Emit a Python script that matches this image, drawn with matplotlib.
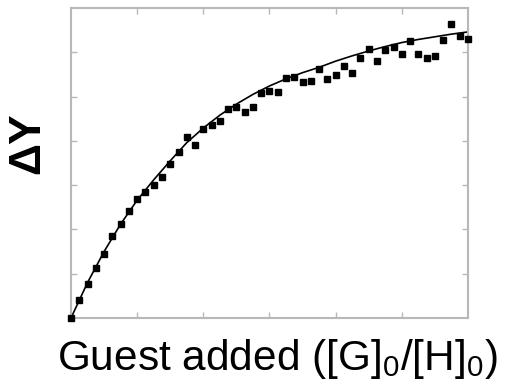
import numpy as np
from matplotlib import pyplot as plt

plt.rcParams['font.family'] = ['Liberation Sans', 'DejaVu Sans']
plt.rcParams['mathtext.default'] = 'regular'

# measured points: guest equivalents vs signal change
guest = [0.0, 0.125, 0.25, 0.375, 0.5, 0.625, 0.75, 0.875, 1.0, 1.125,
         1.25, 1.375, 1.5, 1.625, 1.75, 1.875, 2.0, 2.125, 2.25, 2.375,
         2.5, 2.625, 2.75, 2.875, 3.0, 3.125, 3.25, 3.375, 3.5, 3.625,
         3.75, 3.875, 4.0, 4.125, 4.25, 4.375, 4.5, 4.625, 4.75, 4.875,
         5.0, 5.125, 5.25, 5.375, 5.5, 5.625, 5.75, 5.875, 6.0]
dY = [0.0, 0.41, 0.77, 1.13, 1.44, 1.85, 2.12, 2.42, 2.69, 2.84,
      3.00, 3.18, 3.48, 3.75, 4.09, 3.91, 4.27, 4.36, 4.45, 4.72,
      4.76, 4.65, 4.76, 5.08, 5.12, 5.10, 5.42, 5.44, 5.33, 5.35,
      5.62, 5.40, 5.49, 5.69, 5.53, 5.87, 6.07, 5.80, 6.05, 6.12,
      5.96, 6.25, 5.96, 5.87, 5.91, 6.28, 6.64, 6.37, 6.30]

# fitted curve
fit_x = [0.0, 0.25, 0.5, 0.75, 1.0, 1.25, 1.5, 1.75, 2.0, 2.25, 2.5, 2.75,
         3.0, 3.25, 3.5, 3.75, 4.0, 4.25, 4.5, 4.75, 5.0, 5.25, 5.5, 5.75, 6.0]
fit_y = [0.0, 0.80, 1.50, 2.12, 2.66, 3.12, 3.55, 3.96, 4.29, 4.58, 4.83, 5.05,
         5.24, 5.40, 5.54, 5.66, 5.80, 5.92, 6.03, 6.13, 6.22, 6.29, 6.35, 6.41, 6.46]

fig = plt.figure(figsize=(5.06, 3.89), dpi=100)
ax = fig.add_axes([71/506, 1-318/389, 397/506, 310/389])

ax.plot(fit_x, fit_y, color='black', lw=1.2, zorder=2)
ax.plot(guest, dY, 's', color='black', ms=5, zorder=3, clip_on=False)

ax.set_xlim(0, 6)
ax.set_ylim(0, 7)
ax.set_xticks([1, 2, 3, 4, 5])
ax.set_yticks([1, 2, 3, 4, 5, 6])
ax.tick_params(direction='in', length=4, width=1, color='#b8b8b8',
               top=True, right=True, labelbottom=False, labelleft=False)
for s in ax.spines.values():
    s.set_color('#b8b8b8')
    s.set_linewidth(1.5)

ax.set_xlabel(r'Guest added ([G]$_0$/[H]$_0$)', fontsize=30.5)
ax.xaxis.set_label_coords(0.52, -0.06)
ax.set_ylabel('ΔY', fontsize=32, fontweight='bold')
ax.yaxis.set_label_coords(-0.058, 0.565)

fig.savefig('out.png', dpi=100)
